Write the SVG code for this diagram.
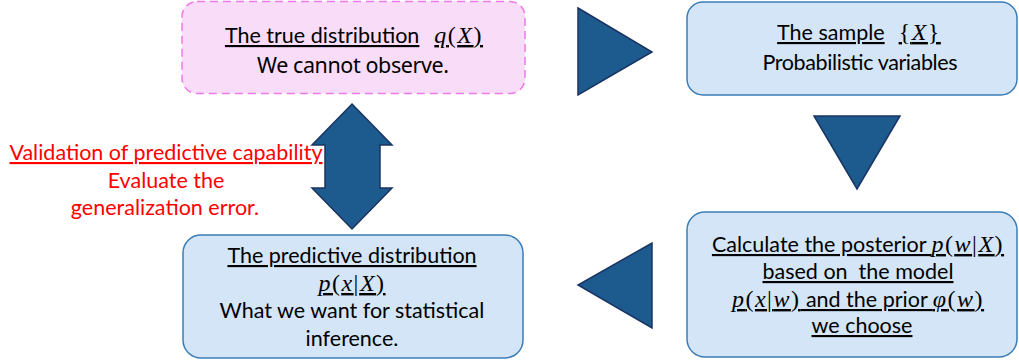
<svg xmlns="http://www.w3.org/2000/svg" width="1019" height="360" viewBox="0 0 1019 360">
<style>
.box{fill:#d3e5f6;stroke:#3b7db8;stroke-width:1.5}
.pink{fill:#f9dcf8;stroke:#ec7ae8;stroke-width:1.5;stroke-dasharray:8 5}
.arr{fill:#1d5a8e;stroke:#1a3462;stroke-width:1.5;stroke-linejoin:miter}
.t{font-family:Lato,"Liberation Sans",sans-serif;font-size:21.5px;fill:#000;text-anchor:middle}
.u{text-decoration:underline}
.m{font-family:"Liberation Serif","DejaVu Serif",serif;font-style:italic;font-size:24px;letter-spacing:1.5px}
.mu{font-family:"Liberation Serif","DejaVu Serif",serif;font-style:normal;font-size:24px;letter-spacing:1.5px}
.r{fill:#ff0000}
</style>
<rect width="1019" height="360" fill="#ffffff"/>
<g id="connectors">
<polygon class="arr" points="578,8 652,52 578,95"/>
<polygon class="arr" points="814,116 900,116 857,189"/>
<polygon class="arr" points="652,243 652,328 578,285"/>
<polygon class="arr" points="352,104 392,145 380,145 380,188 392,188 352,229 312,188 325,188 325,145 312,145"/>
</g>
<g id="node-true">
<rect class="pink" x="182" y="1.5" width="343" height="92" rx="15"/>
<text class="t u" x="354" y="43"><tspan>The true distribution</tspan><tspan dx="15" class="m">q</tspan><tspan class="mu">(</tspan><tspan class="m">X</tspan><tspan class="mu">)</tspan></text>
<text class="t" x="353" y="73" style="font-family:'Noto Sans','Liberation Sans',sans-serif" font-size="19" textLength="192">We cannot observe.</text>
</g>
<g id="node-sample">
<rect class="box" x="687" y="2" width="330" height="93" rx="16"/>
<text class="t u" x="859" y="40"><tspan>The sample</tspan><tspan dx="14" class="mu">{</tspan><tspan class="m">X</tspan><tspan class="mu">}</tspan></text>
<text class="t" x="860" y="70" textLength="195">Probabilistic variables</text>
</g>
<g id="node-posterior">
<rect class="box" x="687" y="212" width="330" height="145" rx="18"/>
<text class="t u" x="858" y="252"><tspan>Calculate the posterior </tspan><tspan class="m">p</tspan><tspan class="mu">(</tspan><tspan class="m">w</tspan><tspan class="mu">|</tspan><tspan class="m">X</tspan><tspan class="mu">)</tspan></text>
<text class="t u" x="858" y="279" xml:space="preserve">based on  the model</text>
<text class="t u" x="858" y="307"><tspan class="m">p</tspan><tspan class="mu">(</tspan><tspan class="m">x</tspan><tspan class="mu">|</tspan><tspan class="m">w</tspan><tspan class="mu">)</tspan><tspan> and the prior </tspan><tspan class="m">φ</tspan><tspan class="mu">(</tspan><tspan class="m">w</tspan><tspan class="mu">)</tspan></text>
<text class="t u" x="862" y="333">we choose</text>
</g>
<g id="node-predictive">
<rect class="box" x="183" y="235" width="340" height="123" rx="18"/>
<text class="t u" x="352" y="263">The predictive distribution</text>
<text class="t u" x="352" y="291"><tspan class="m">p</tspan><tspan class="mu">(</tspan><tspan class="m">x</tspan><tspan class="mu">|</tspan><tspan class="m">X</tspan><tspan class="mu">)</tspan></text>
<text class="t" x="352" y="318">What we want for statistical</text>
<text class="t" x="352" y="346">inference.</text>
</g>
<g id="label-validation">
<text class="t u r" x="166" y="160">Validation of predictive capability</text>
<text class="t r" x="166" y="188">Evaluate the</text>
<text class="t r" x="165" y="215">generalization error.</text>
</g>
</svg>
